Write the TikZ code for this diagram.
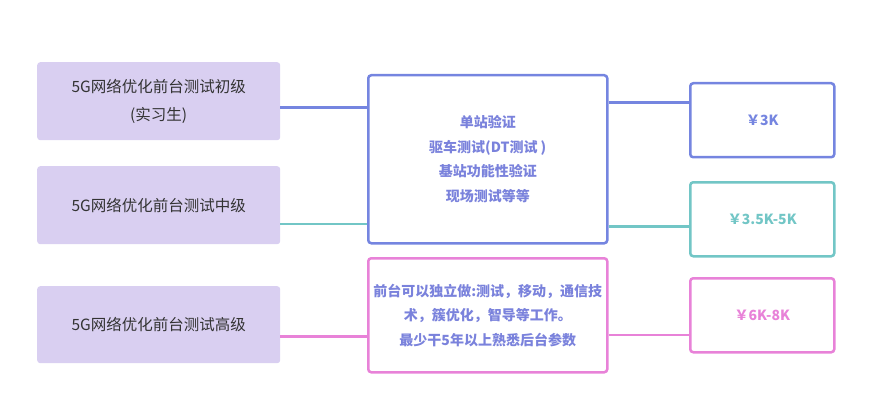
\documentclass[tikz,border=0pt]{standalone}
\usepackage{fontspec}
\setmainfont{Noto Sans CJK SC}
\usepackage{tikz}
\usetikzlibrary{calc}

\definecolor{levelfill}{HTML}{D9CFF1}
\definecolor{levelblue}{HTML}{7585E0}
\definecolor{levelteal}{HTML}{72C6C6}
\definecolor{levelpink}{HTML}{E882D8}
\definecolor{leveltext}{HTML}{333333}
\definecolor{dutytext}{HTML}{7A82DC}

\begin{document}
\begin{tikzpicture}[x=1pt, y=-1pt,
	levelbox/.style={fill=levelfill, rounded corners=3pt, anchor=north west, minimum width=243pt, minimum height=78pt, align=center, text=leveltext, font=\fontsize{15.5}{28}\selectfont},
	dutybox/.style={draw=#1, line width=2.5pt, fill=white, rounded corners=3pt, anchor=north west, minimum width=239pt, align=center, text=dutytext, font=\fontsize{14}{24.5}\selectfont\bfseries},
	paybox/.style={draw=#1, line width=2.5pt, fill=white, rounded corners=3pt, anchor=north west, minimum width=144pt, minimum height=74pt, text=#1, font=\fontsize{14}{16}\selectfont\bfseries},
	link/.style={line width=2.8pt, color=#1}]
			%%%%% START %%%%%
			
			\useasboundingbox (0, 0) rectangle (890, 414);
			
			% levels
			\node[levelbox] (l1) at (37, 62) {5G网络优化前台测试初级\\(实习生)};
			\node[levelbox] (l2) at (37, 166) {5G网络优化前台测试中级};
			\node[levelbox, minimum height=77pt] (l3) at (37, 286) {5G网络优化前台测试高级};
			
			% links
			\draw[link=levelblue] ([yshift=-6pt]l1.east) -- ([yshift=-6pt]l1.east -| 367, 0);
			\draw[link=levelteal] ([yshift=-18.7pt]l2.east) -- ([yshift=-18.7pt]l2.east -| 367, 0);
			\draw[link=levelpink] ([yshift=-11.5pt]l3.east) -- ([yshift=-11.5pt]l3.east -| 367, 0);
			
			% duties
			\node[dutybox=levelblue, minimum height=168pt] (m1) at (367, 74) {单站验证\\驱车测试(DT测试 )\\基站功能性验证\\现场测试等等};
			\node[dutybox=levelpink, minimum height=114pt] (m2) at (367, 257) {前台可以独立做:测试，移动，通信技\\术，簇优化，智导等工作。\\最少干5年以上熟悉后台参数};
			
			% pay
			\node[paybox=levelblue] (r1) at (689, 82) {￥3K};
			\node[paybox=levelteal] (r2) at (689, 181) {￥3.5K-5K};
			\node[paybox=levelpink] (r3) at (689, 277) {￥6K-8K};
			
			\draw[link=levelblue] ([yshift=18pt]r1.west -| m1.east) -- ([yshift=18pt]r1.west);
			\draw[link=levelteal] ([yshift=-7pt]r2.west -| m1.east) -- ([yshift=-7pt]r2.west);
			\draw[link=levelpink] ([yshift=-19.7pt]r3.west -| m2.east) -- ([yshift=-19.7pt]r3.west);
			
			%%%%% END %%%%%
		\end{tikzpicture}
\end{document}
